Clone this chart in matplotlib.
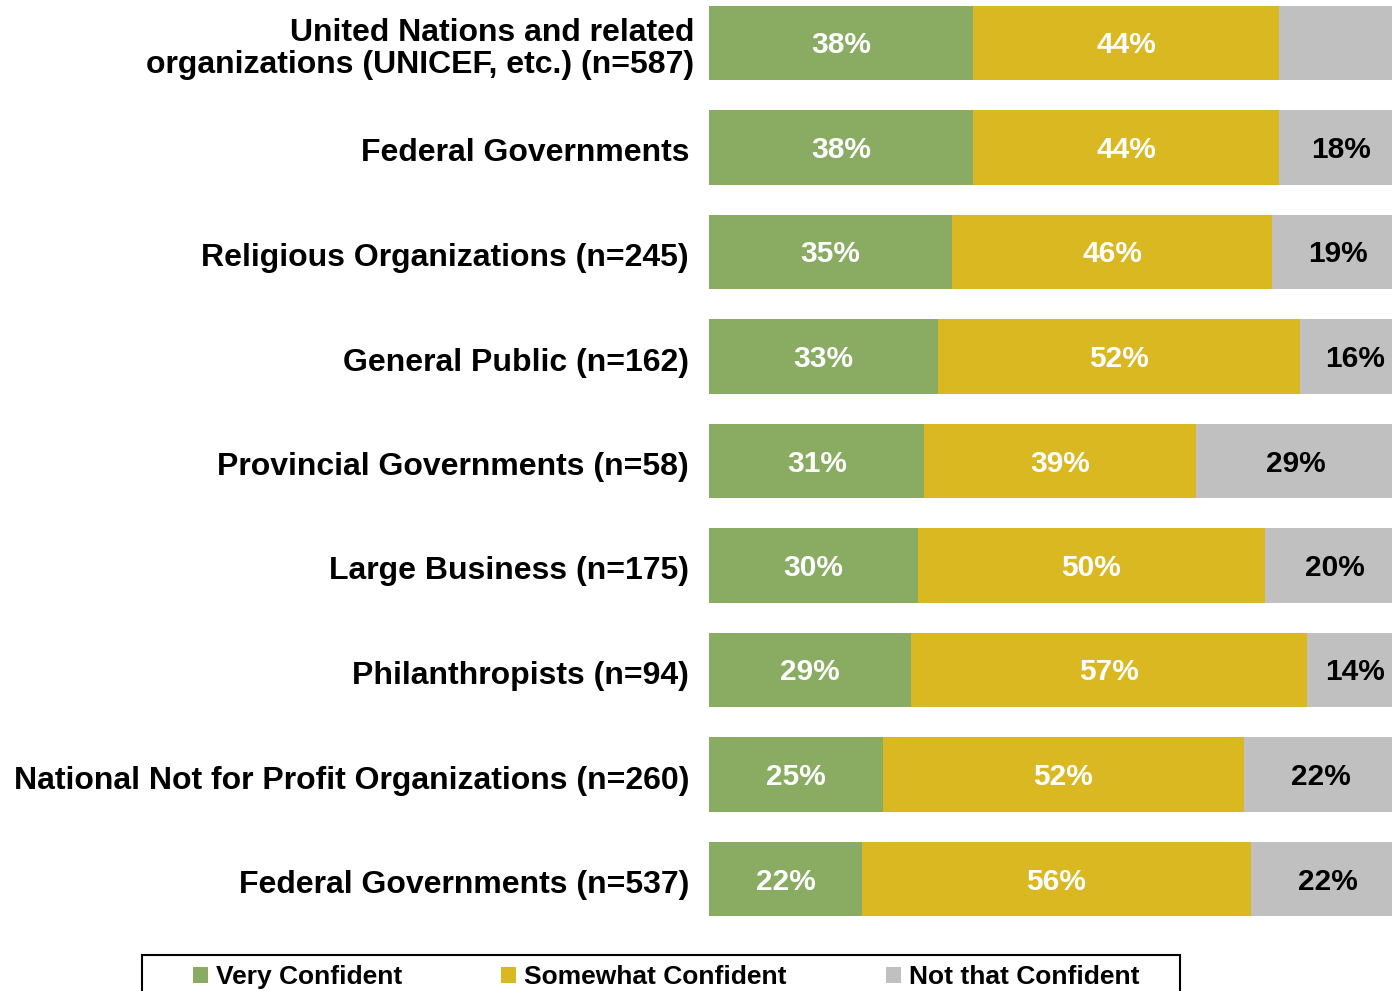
import matplotlib
matplotlib.use("Agg")
import matplotlib.pyplot as plt
from matplotlib.patches import Rectangle, Patch
import numpy as np

plt.rcParams['font.family'] = ['Liberation Sans', 'DejaVu Sans']

categories = [
    "United Nations and related\norganizations (UNICEF, etc.) (n=587)",
    "Federal Governments",
    "Religious Organizations (n=245)",
    "General Public (n=162)",
    "Provincial Governments (n=58)",
    "Large Business (n=175)",
    "Philanthropists (n=94)",
    "National Not for Profit Organizations (n=260)",
    "Federal Governments (n=537)",
]
very_confident = [38, 38, 35, 33, 31, 30, 29, 25, 22]
somewhat_confident = [44, 44, 46, 52, 39, 50, 57, 52, 56]
not_that_confident = [18, 18, 19, 16, 29, 20, 14, 22, 22]
show_gray_label = [False, True, True, True, True, True, True, True, True]

series_names = ["Very Confident", "Somewhat Confident", "Not that Confident"]
colors = ["#89AC62", "#DAB822", "#C0C0C0"]
text_colors = ["white", "white", "black"]

W, H = 1392, 991
fig = plt.figure(figsize=(W / 100, H / 100), dpi=100)

ax_left, ax_right = 709, 1404
ax_top, ax_bottom = 0, 930
ax = fig.add_axes([ax_left / W, 1 - ax_bottom / H,
                   (ax_right - ax_left) / W, (ax_bottom - ax_top) / H])

y = np.arange(len(categories))
pitch = 104.5
first_center = 43
ax.set_ylim((ax_bottom - first_center) / pitch, (ax_top - first_center) / pitch)
ax.set_xlim(0, 100)

left = np.zeros(len(categories))
series = [very_confident, somewhat_confident, not_that_confident]
for k, vals in enumerate(series):
    vals = np.array(vals, dtype=float)
    ax.barh(y, vals, left=left, height=0.71, color=colors[k], edgecolor='none')
    for i, v in enumerate(vals):
        if k == 2 and not show_gray_label[i]:
            continue
        ax.annotate(f"{int(v)}%", xy=(left[i] + v / 2, y[i]), xytext=(0, -2.5),
                    textcoords='offset pixels', ha='center', va='center',
                    color=text_colors[k], fontsize=21.5, fontweight='bold')
    left += vals

# category labels to the left of the bars
for i, label in enumerate(categories):
    off = 15 if "\n" in label else 20
    ax.annotate(label, xy=(0, y[i]), xycoords=('axes fraction', 'data'),
                xytext=(-off, -6), textcoords='offset pixels',
                ha='right', va='center', multialignment='right',
                fontsize=23, fontweight='bold', linespacing=1.06)

ax.set_yticks([])
ax.set_xticks([])
for s in ax.spines.values():
    s.set_visible(False)

# legend frame
fig.patches.append(Rectangle((142 / W, 1 - 1000 / H), (1180 - 142) / W, (1000 - 955) / H,
                             transform=fig.transFigure, fill=False,
                             edgecolor='black', linewidth=1.5))
handles = [Patch(facecolor=c, edgecolor='none') for c in colors]
fig.legend(handles, series_names, loc='center left',
           bbox_to_anchor=(193 / W, 1 - 977 / H), ncol=3, frameon=False,
           prop={'size': 19, 'weight': 'bold'}, handlelength=0.57, handleheight=0.57,
           handletextpad=0.3, columnspacing=3.75, borderpad=0, borderaxespad=0)

fig.savefig("out.png", dpi=100)
